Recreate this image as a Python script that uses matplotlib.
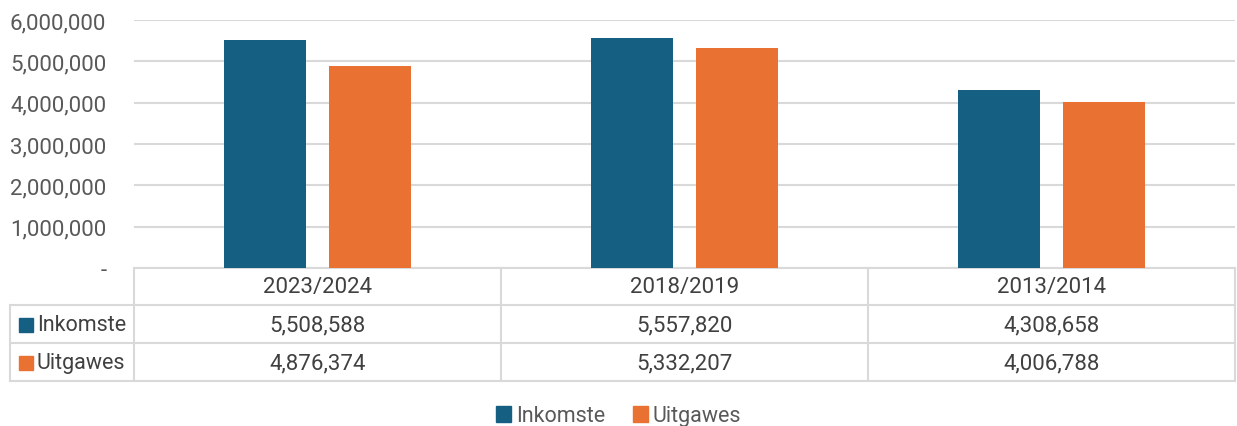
import numpy as np
import matplotlib.pyplot as plt
from matplotlib.patches import Patch, Rectangle

# data
years = ['2023/2024', '2018/2019', '2013/2014']
inkomste = [5508588, 5557820, 4308658]
uitgawes = [4876374, 5332207, 4006788]
series_names = ['Inkomste', 'Uitgawes']
colors = ['#156082', '#E97132']
y_ticks = [0, 1000000, 2000000, 3000000, 4000000, 5000000, 6000000]

plt.rcParams['font.family'] = ['Roboto', 'DejaVu Sans']

W, H = 1237, 427
fig = plt.figure(figsize=(W / 100, H / 100), dpi=100)
# axes placed in pixel terms
L, R, T, B = 134, 1235, 21, 269
ax = fig.add_axes([L / W, 1 - B / H, (R - L) / W, (B - T) / H])

x = np.arange(len(years))
bw = 0.223
off = 0.143
ax.bar(x - off, inkomste, bw, color=colors[0], zorder=3)
ax.bar(x + off, uitgawes, bw, color=colors[1], zorder=3)

ax.set_xlim(-0.5, len(years) - 0.5)
ax.set_ylim(0, 6000000)
ax.set_yticks(y_ticks)
ax.set_yticklabels(['-' if v == 0 else f'{v:,}' for v in y_ticks],
                   fontsize=16, color='#595959')
ax.tick_params(axis='y', length=0, pad=20)
ax.tick_params(axis='x', length=0, labelbottom=False)
ax.grid(axis='y', color='#d9d9d9', linewidth=1.5, zorder=0)
for s in ax.spines.values():
    s.set_visible(False)

# data table below the axes
ah = B - T
aw = R - L
def ay(py):
    return (B - py) / ah
def axx(px):
    return (px - L) / aw

lc = '#d9d9d9'
lw = 1.5
tc = '#404040'
fs = 15.5
fn = 16
tr = ax.transAxes
rows_y = [269, 306, 344, 382]
# horizontal lines
ax.plot([0, 1], [ay(269)] * 2, color=lc, lw=lw, transform=tr, clip_on=False)
for py in rows_y[1:]:
    ax.plot([axx(10), 1], [ay(py)] * 2, color=lc, lw=lw, transform=tr, clip_on=False)
# vertical lines
ax.plot([axx(10)] * 2, [ay(306), ay(382)], color=lc, lw=lw, transform=tr, clip_on=False)
for i in range(len(years) + 1):
    xx = i / len(years)
    ax.plot([xx, xx], [ay(269), ay(382)], color=lc, lw=lw, transform=tr, clip_on=False)

xt = ax.get_xaxis_transform()
for i, yr in enumerate(years):
    ax.text(i, ay(288), yr, ha='center', va='center', fontsize=fn, color=tc, transform=xt)
    ax.text(i, ay(325.5), f'{inkomste[i]:,}', ha='center', va='center', fontsize=fn, color=tc, transform=xt)
    ax.text(i, ay(363.5), f'{uitgawes[i]:,}', ha='center', va='center', fontsize=fn, color=tc, transform=xt)

for name, c, cy in zip(series_names, colors, [325.5, 363.5]):
    ax.add_patch(Rectangle((axx(19), ay(cy + 7)), 14 / aw, 14 / ah, color=c,
                           transform=tr, clip_on=False))
    ax.text(axx(37), ay(cy), name, ha='left', va='center', fontsize=fs, color=tc, transform=tr)

handles = [Patch(color=c, label=n) for n, c in zip(series_names, colors)]
fig.legend(handles=handles, loc='center', bbox_to_anchor=(0.5, 1 - 417 / H), ncol=2,
           frameon=False, fontsize=fs, handlelength=0.7, handleheight=0.7,
           handletextpad=0.2, columnspacing=1.3, labelcolor='#595959')

fig.savefig('out.png', dpi=100)
